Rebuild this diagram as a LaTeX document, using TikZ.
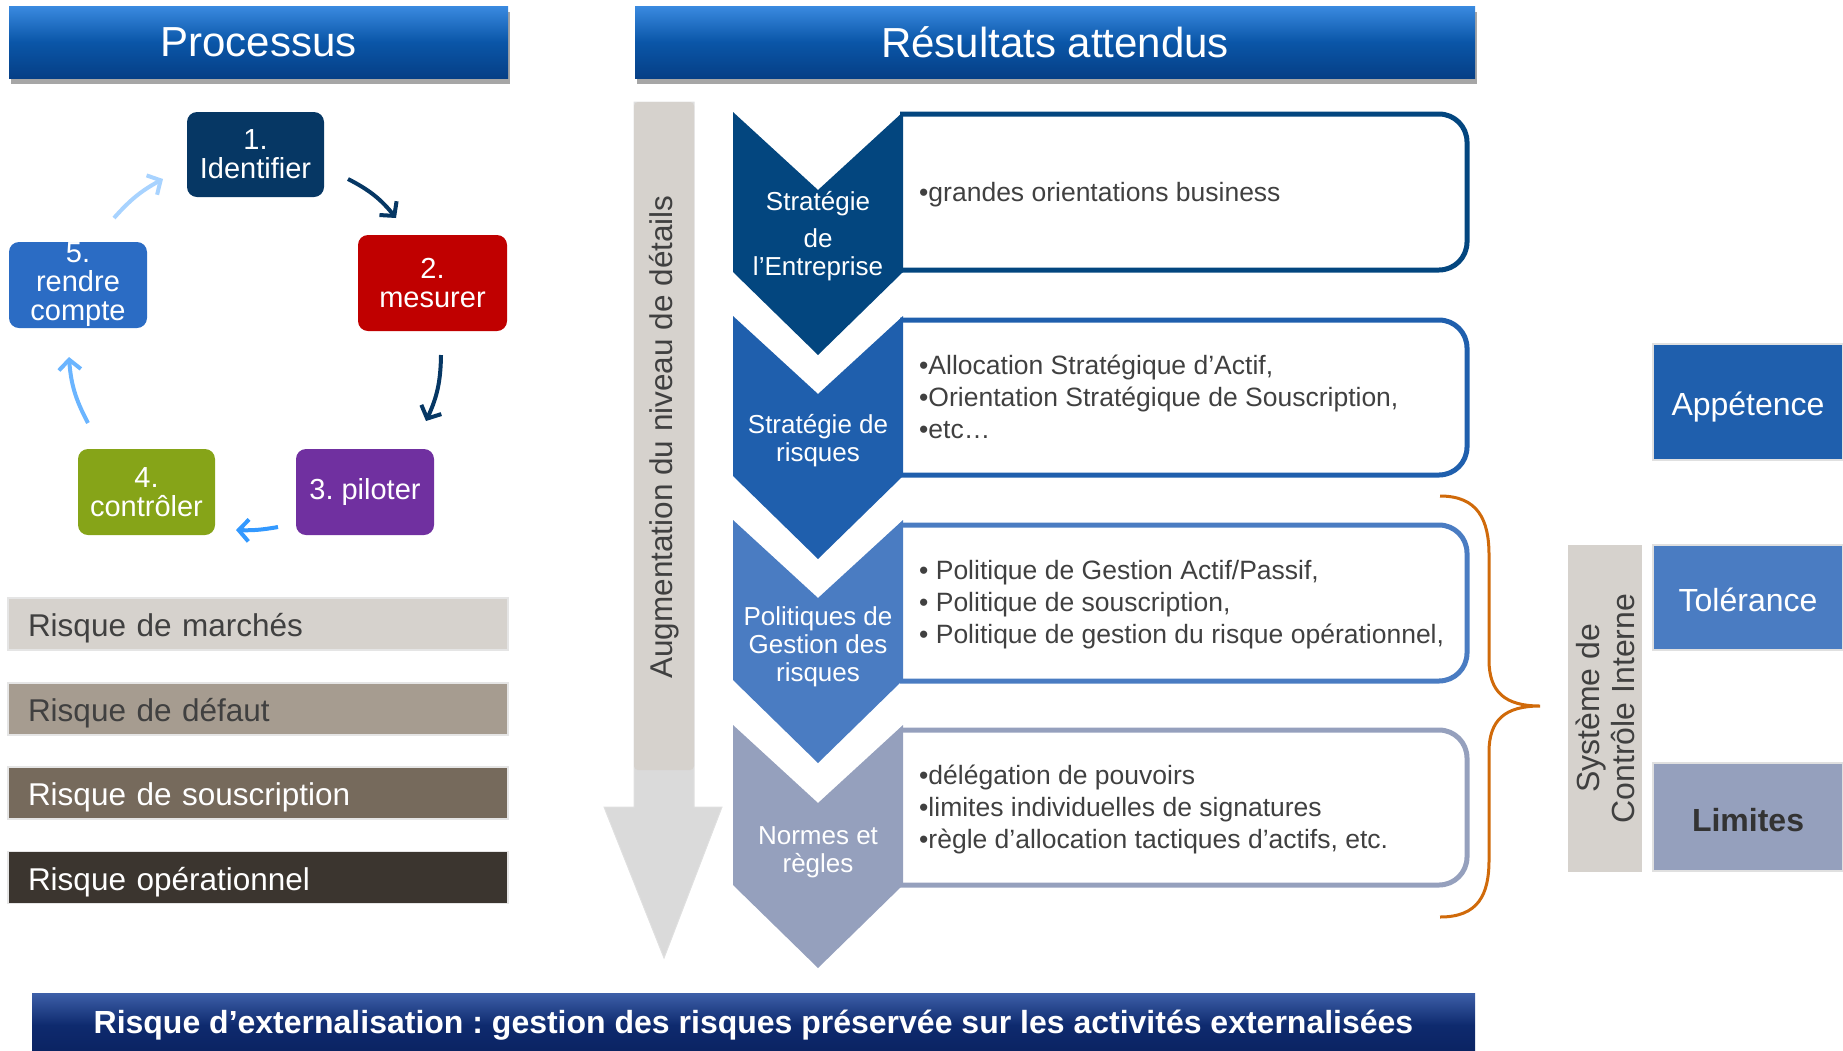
\documentclass[tikz,border=0pt]{standalone}
\usepackage{fontspec}
\setmainfont{Liberation Sans}
\usetikzlibrary{arrows.meta,shadows}
\definecolor{hdrtop}{HTML}{3A8AE0}
\definecolor{hdrmid}{HTML}{0A56A8}
\definecolor{hdrbot}{HTML}{063F86}
\definecolor{navyA}{HTML}{063764}
\definecolor{redB}{HTML}{C00000}
\definecolor{purpC}{HTML}{7030A0}
\definecolor{greenD}{HTML}{86A418}
\definecolor{blueE}{HTML}{2B6CC4}
\definecolor{chevA}{HTML}{03467F}
\definecolor{chevB}{HTML}{1F5FAD}
\definecolor{chevC}{HTML}{4A7CC2}
\definecolor{chevD}{HTML}{95A0BD}
\definecolor{warmgray}{HTML}{D6D2CD}
\definecolor{arrgray}{HTML}{DADADA}
\definecolor{riskB}{HTML}{A69C90}
\definecolor{riskC}{HTML}{766A5C}
\definecolor{riskD}{HTML}{3B352F}
\definecolor{txtgray}{HTML}{404040}
\definecolor{bracecol}{HTML}{D06A0A}
\definecolor{bantop}{HTML}{3D5FA8}
\definecolor{banmid}{HTML}{0E2A6E}
\definecolor{banbot}{HTML}{0A2260}
\definecolor{arrC}{HTML}{3399FF}
\definecolor{arrD}{HTML}{6BB5FF}
\definecolor{arrE}{HTML}{A8D3FF}
\frenchspacing
\begin{document}
\begin{tikzpicture}[x=1pt,y=-1pt,
  hdr/.style={rectangle, inner sep=0pt, top color=hdrtop, bottom color=hdrbot, middle color=hdrmid,
    text=white, font=\fontsize{42}{48}\selectfont, minimum height=72pt,
    drop shadow={shadow xshift=2pt, shadow yshift=-6pt, opacity=0.35, fill=black}},
  pbox/.style={rectangle, rounded corners=10pt, inner sep=0pt, text=white, align=center,
    font=\fontsize{29}{29}\selectfont},
  rbar/.style={rectangle, draw=black!10, line width=1.5pt, minimum width=500pt, minimum height=52pt,
    text width=460pt, inner xsep=20pt, inner ysep=0pt, align=left, text height=25.8pt, text depth=0pt,
    font=\fontsize{31.5}{34}\selectfont},
  parr/.style={line width=4pt, -{Straight Barb[length=10pt,width=22pt]}},
  boxline/.style={line width=5pt, rounded corners=28pt},
  btext/.style={anchor=west, align=left, inner sep=0pt, text=txtgray, font=\fontsize{26.5}{32}\selectfont},
  clabel/.style={align=center, inner sep=0pt, text=white, font=\fontsize{26}{28}\selectfont},
  rbox/.style={rectangle, draw=black!12, line width=1.5pt, inner sep=0pt, text depth=0pt, font=\fontsize{32}{36}\selectfont},
]
\useasboundingbox (0,0) rectangle (1843,1050);

% headers
\node[hdr, minimum width=499pt] (hp) at (258.5,42) {Processus};
\node[hdr, minimum width=840pt] (hr) at (1055,42) {Résultats attendus};

% process cycle
\node[pbox, fill=navyA, minimum width=137pt, minimum height=85pt] (p1) at (255.5,154.5) {1.\\Identifier};
\node[pbox, fill=redB, minimum width=149pt, minimum height=96pt] (p2) at (432.5,283) {2.\\mesurer};
\node[pbox, fill=purpC, minimum width=138pt, minimum height=86pt] (p3) at (365,492) {3. piloter};
\node[pbox, fill=greenD, minimum width=137pt, minimum height=86pt] (p4) at (146.5,492) {4.\\contrôler};
\node[pbox, fill=blueE, minimum width=138pt, minimum height=86pt] (p5) at (78,285) {5.\\rendre\\compte};

\coordinate (a1s) at (348,179); \coordinate (a1e) at (396,218);
\coordinate (a2s) at (441,355); \coordinate (a2e) at (426,421);
\coordinate (a3s) at (278,527); \coordinate (a3e) at (236,530);
\coordinate (a4s) at (88,423);  \coordinate (a4e) at (69,357);
\coordinate (a5s) at (114,218); \coordinate (a5e) at (163,179);
\draw[parr, draw=navyA] (a1s) to[bend left=12] (a1e);
\draw[parr, draw=navyA] (a2s) to[bend left=12] (a2e);
\draw[parr, draw=arrC] (a3s) to[bend left=6] (a3e);
\draw[parr, draw=arrD] (a4s) to[bend left=12] (a4e);
\draw[parr, draw=arrE] (a5s) to[bend left=10] (a5e);

% risk bars
\node[rbar, fill=warmgray, text=txtgray] (r1) at (258,624) {Risque de marchés};
\node[rbar, fill=riskB, text=txtgray] (r2) at (258,709) {Risque de défaut};
\node[rbar, fill=riskC, text=white] (r3) at (258,793) {Risque de souscription};
\node[rbar, fill=riskD, text=white] (r4) at (258,877.5) {Risque opérationnel};

% big gray arrow
\fill[arrgray, draw=black!12, line width=1pt] (634,102) -- (694,102) -- (694,807) -- (722,807) -- (664,958) -- (604,807) -- (634,807) -- cycle;
\fill[warmgray, rounded corners=4pt] (634,102) -- (694,102) -- (694,770) -- (634,770) -- cycle;
\node[rotate=90, text=txtgray, font=\fontsize{31.5}{34}\selectfont, inner sep=0pt] (aug) at (664,437) {Augmentation du niveau de détails};

% result boxes
\draw[boxline, draw=chevA] (900,114) -- (1467,114) -- (1467,270) -- (900,270);
\draw[boxline, draw=chevB] (900,320) -- (1467,320) -- (1467,475) -- (900,475);
\draw[boxline, draw=chevC] (900,525) -- (1467,525) -- (1467,681) -- (900,681);
\draw[boxline, draw=chevD] (900,730) -- (1467,730) -- (1467,885) -- (900,885);

% chevrons
\fill[chevA] (733,112) -- (818,190) -- (903,112) -- (903,272) -- (818,355) -- (733,272) -- cycle;
\fill[chevB] (733,316) -- (818,394) -- (903,316) -- (903,476) -- (818,559) -- (733,476) -- cycle;
\fill[chevC] (733,520) -- (818,598) -- (903,520) -- (903,680) -- (818,763) -- (733,680) -- cycle;
\fill[chevD] (733,725) -- (818,803) -- (903,725) -- (903,885) -- (818,968) -- (733,885) -- cycle;

\node[clabel] (c1) at (818,236) {Stratégie\\[9pt]de\\l’Entreprise};
\node[clabel] (c2) at (818,441) {Stratégie de\\risques};
\node[clabel] (c3) at (818,647) {Politiques de\\Gestion des\\risques};
\node[clabel] (c4) at (818,852) {Normes et\\règles};

\node[btext] (t1) at (919,195) {•grandes orientations business};
\node[btext] (t2) at (919,397) {•Allocation Stratégique d’Actif,\\•Orientation Stratégique de Souscription,\\•etc…};
\node[btext] (t3) at (919,605) {•\ Politique de Gestion Actif/Passif,\\•\ Politique de souscription,\\•\ Politique de gestion du risque opérationnel,};
\node[btext] (t4) at (919,809) {•délégation de pouvoirs\\•limites individuelles de signatures\\•règle d’allocation tactiques d’actifs, etc.};

% brace
\draw[bracecol, line width=3pt] (1440,496) .. controls (1478,496) and (1489,520) .. (1489,555) -- (1489,660)
  .. controls (1489,692) and (1505,706) .. (1540,706)
  .. controls (1505,706) and (1489,720) .. (1489,752) -- (1489,860)
  .. controls (1489,895) and (1478,917) .. (1440,917);

% right side
\node[rectangle, fill=warmgray, inner sep=0pt, minimum width=74pt, minimum height=327pt] (sci) at (1605,708.5) {};
\node[rotate=90, align=center, text=txtgray, inner sep=0pt, font=\fontsize{32}{35}\selectfont] (scit) at (1605,708.5) {Système de\\Contrôle Interne};
\node[rbox, fill=chevB, text=white, minimum width=190pt, minimum height=116pt, text height=26.4pt] (ap) at (1748,402) {Appétence};
\node[rbox, fill=chevC, text=white, minimum width=190pt, minimum height=105pt, text height=28.5pt] (to) at (1748,597.5) {Tolérance};
\node[rbox, fill=chevD, text=txtgray!80!black, minimum width=190pt, minimum height=108pt, text height=28pt, font=\fontsize{32}{36}\selectfont\bfseries] (li) at (1748,817) {Limites};

% bottom banner
\node[rectangle, inner sep=0pt, top color=bantop, bottom color=banbot, middle color=banmid,
  minimum width=1443pt, minimum height=64pt, anchor=north west] (ban) at (32,993) {};
\node[text=white, font=\fontsize{32}{34}\selectfont\bfseries, inner sep=0pt] (bant) at (753.5,1025) {Risque d’externalisation : gestion des risques préservée sur les activités externalisées};
\end{tikzpicture}
\end{document}
